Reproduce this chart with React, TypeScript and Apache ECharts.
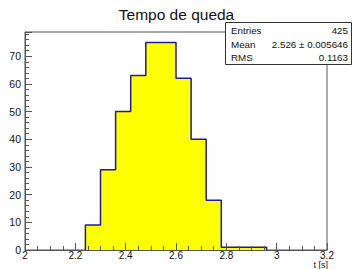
import React, { useEffect, useRef } from "react";
import * as echarts from "echarts";

const title = "Tempo de queda";
const xAxisName = "t [s]";
const binEdges = [2.24, 2.3, 2.36, 2.42, 2.48, 2.54, 2.6, 2.66, 2.72, 2.78, 2.84, 2.9, 2.96];
const counts = [9, 29, 50, 63, 75, 75, 62, 40, 18, 1, 1, 1];
const statsLabels = ["Entries", "Mean", "RMS"];
const statsValues = ["425", "2.526 \u00b1 0.005646", "0.1163"];

const FONT = "'Liberation Sans', Arial, Helvetica, sans-serif";
const AXIS_COLOR = "#555";

export default function App() {
  const ref = useRef<HTMLDivElement>(null);
  useEffect(() => {
    document.body.style.margin = "0";
    const chart = echarts.init(ref.current!, null, { renderer: "svg" });

    const outline: number[][] = [];
    counts.forEach((c, i) => {
      if (i === 0) outline.push([binEdges[0], 0]);
      outline.push([binEdges[i], c]);
      outline.push([binEdges[i + 1], c]);
    });
    outline.push([binEdges[binEdges.length - 1], 0]);

    const boxX = 225, boxY = 22, boxW = 126, boxH = 42;
    const rowYs = [30, 44, 57.5];
    const statsGraphics: any[] = [
      {
        type: "rect",
        shape: { x: boxX + 0.5, y: boxY + 0.5, width: boxW, height: boxH },
        style: { fill: "#fff", stroke: "#333", lineWidth: 1 },
        z: 100,
      },
      {
        type: "text",
        x: 328,
        y: 269,
        style: { text: xAxisName, fill: "#111", font: `9px ${FONT}`, textVerticalAlign: "bottom", textAlign: "right" },
        z: 101,
      },
    ];
    statsLabels.forEach((l, i) => {
      statsGraphics.push({
        type: "text",
        x: boxX + 6,
        y: rowYs[i],
        style: { text: l, fill: "#111", font: `9.8px ${FONT}`, textVerticalAlign: "middle", textAlign: "left" },
        z: 101,
      });
      statsGraphics.push({
        type: "text",
        x: boxX + boxW - 3,
        y: rowYs[i],
        style: { text: statsValues[i], fill: "#111", font: `9.8px ${FONT}`, textVerticalAlign: "middle", textAlign: "right" },
        z: 101,
      });
    });

    chart.setOption({
      animation: false,
      backgroundColor: "#fff",
      title: {
        text: title,
        left: "center",
        top: 1,
        textStyle: { fontFamily: FONT, fontSize: 15.5, fontWeight: "normal", color: "#111" },
      },
      grid: {
        left: 25,
        right: 26,
        top: 32,
        bottom: 19,
        show: true,
        borderColor: AXIS_COLOR,
        borderWidth: 1,
        backgroundColor: "transparent",
      },
      xAxis: {
        type: "value",
        min: 2,
        max: 3.2,
        interval: 0.2,
        z: 10,
        axisLine: { show: true, lineStyle: { color: AXIS_COLOR, width: 1 } },
        axisTick: { show: true, inside: true, length: 7, lineStyle: { color: AXIS_COLOR } },
        minorTick: { show: true, splitNumber: 4, length: 4, lineStyle: { color: AXIS_COLOR } },
        splitLine: { show: false },
        axisLabel: {
          fontFamily: FONT,
          fontSize: 10,
          lineHeight: 9,
          color: "#111",
          margin: 1,
          formatter: (v: number) => String(Math.round(v * 10) / 10),
        },
      },
      yAxis: {
        type: "value",
        min: 0,
        max: 78.75,
        interval: 10,
        z: 10,
        axisLine: { show: true, lineStyle: { color: AXIS_COLOR, width: 1 } },
        axisTick: { show: true, inside: true, length: 7, lineStyle: { color: AXIS_COLOR } },
        minorTick: { show: true, splitNumber: 5, length: 4, lineStyle: { color: AXIS_COLOR } },
        splitLine: { show: false },
        axisLabel: {
          fontFamily: FONT,
          fontSize: 10.5,
          color: "#111",
          margin: 4,
          showMaxLabel: false,
        },
      },
      series: [
        {
          type: "line",
          data: outline,
          symbol: "none",
          z: 3,
          lineStyle: { color: "#1c1c96", width: 1.5 },
          areaStyle: { color: "#ffff00", opacity: 1 },
        },
      ],
      graphic: statsGraphics,
    });
    return () => chart.dispose();
  }, []);
  return (
    <div
      ref={ref}
      style={{ position: "fixed", left: 0, top: 0, width: 353, height: 269 }}
    />
  );
}
